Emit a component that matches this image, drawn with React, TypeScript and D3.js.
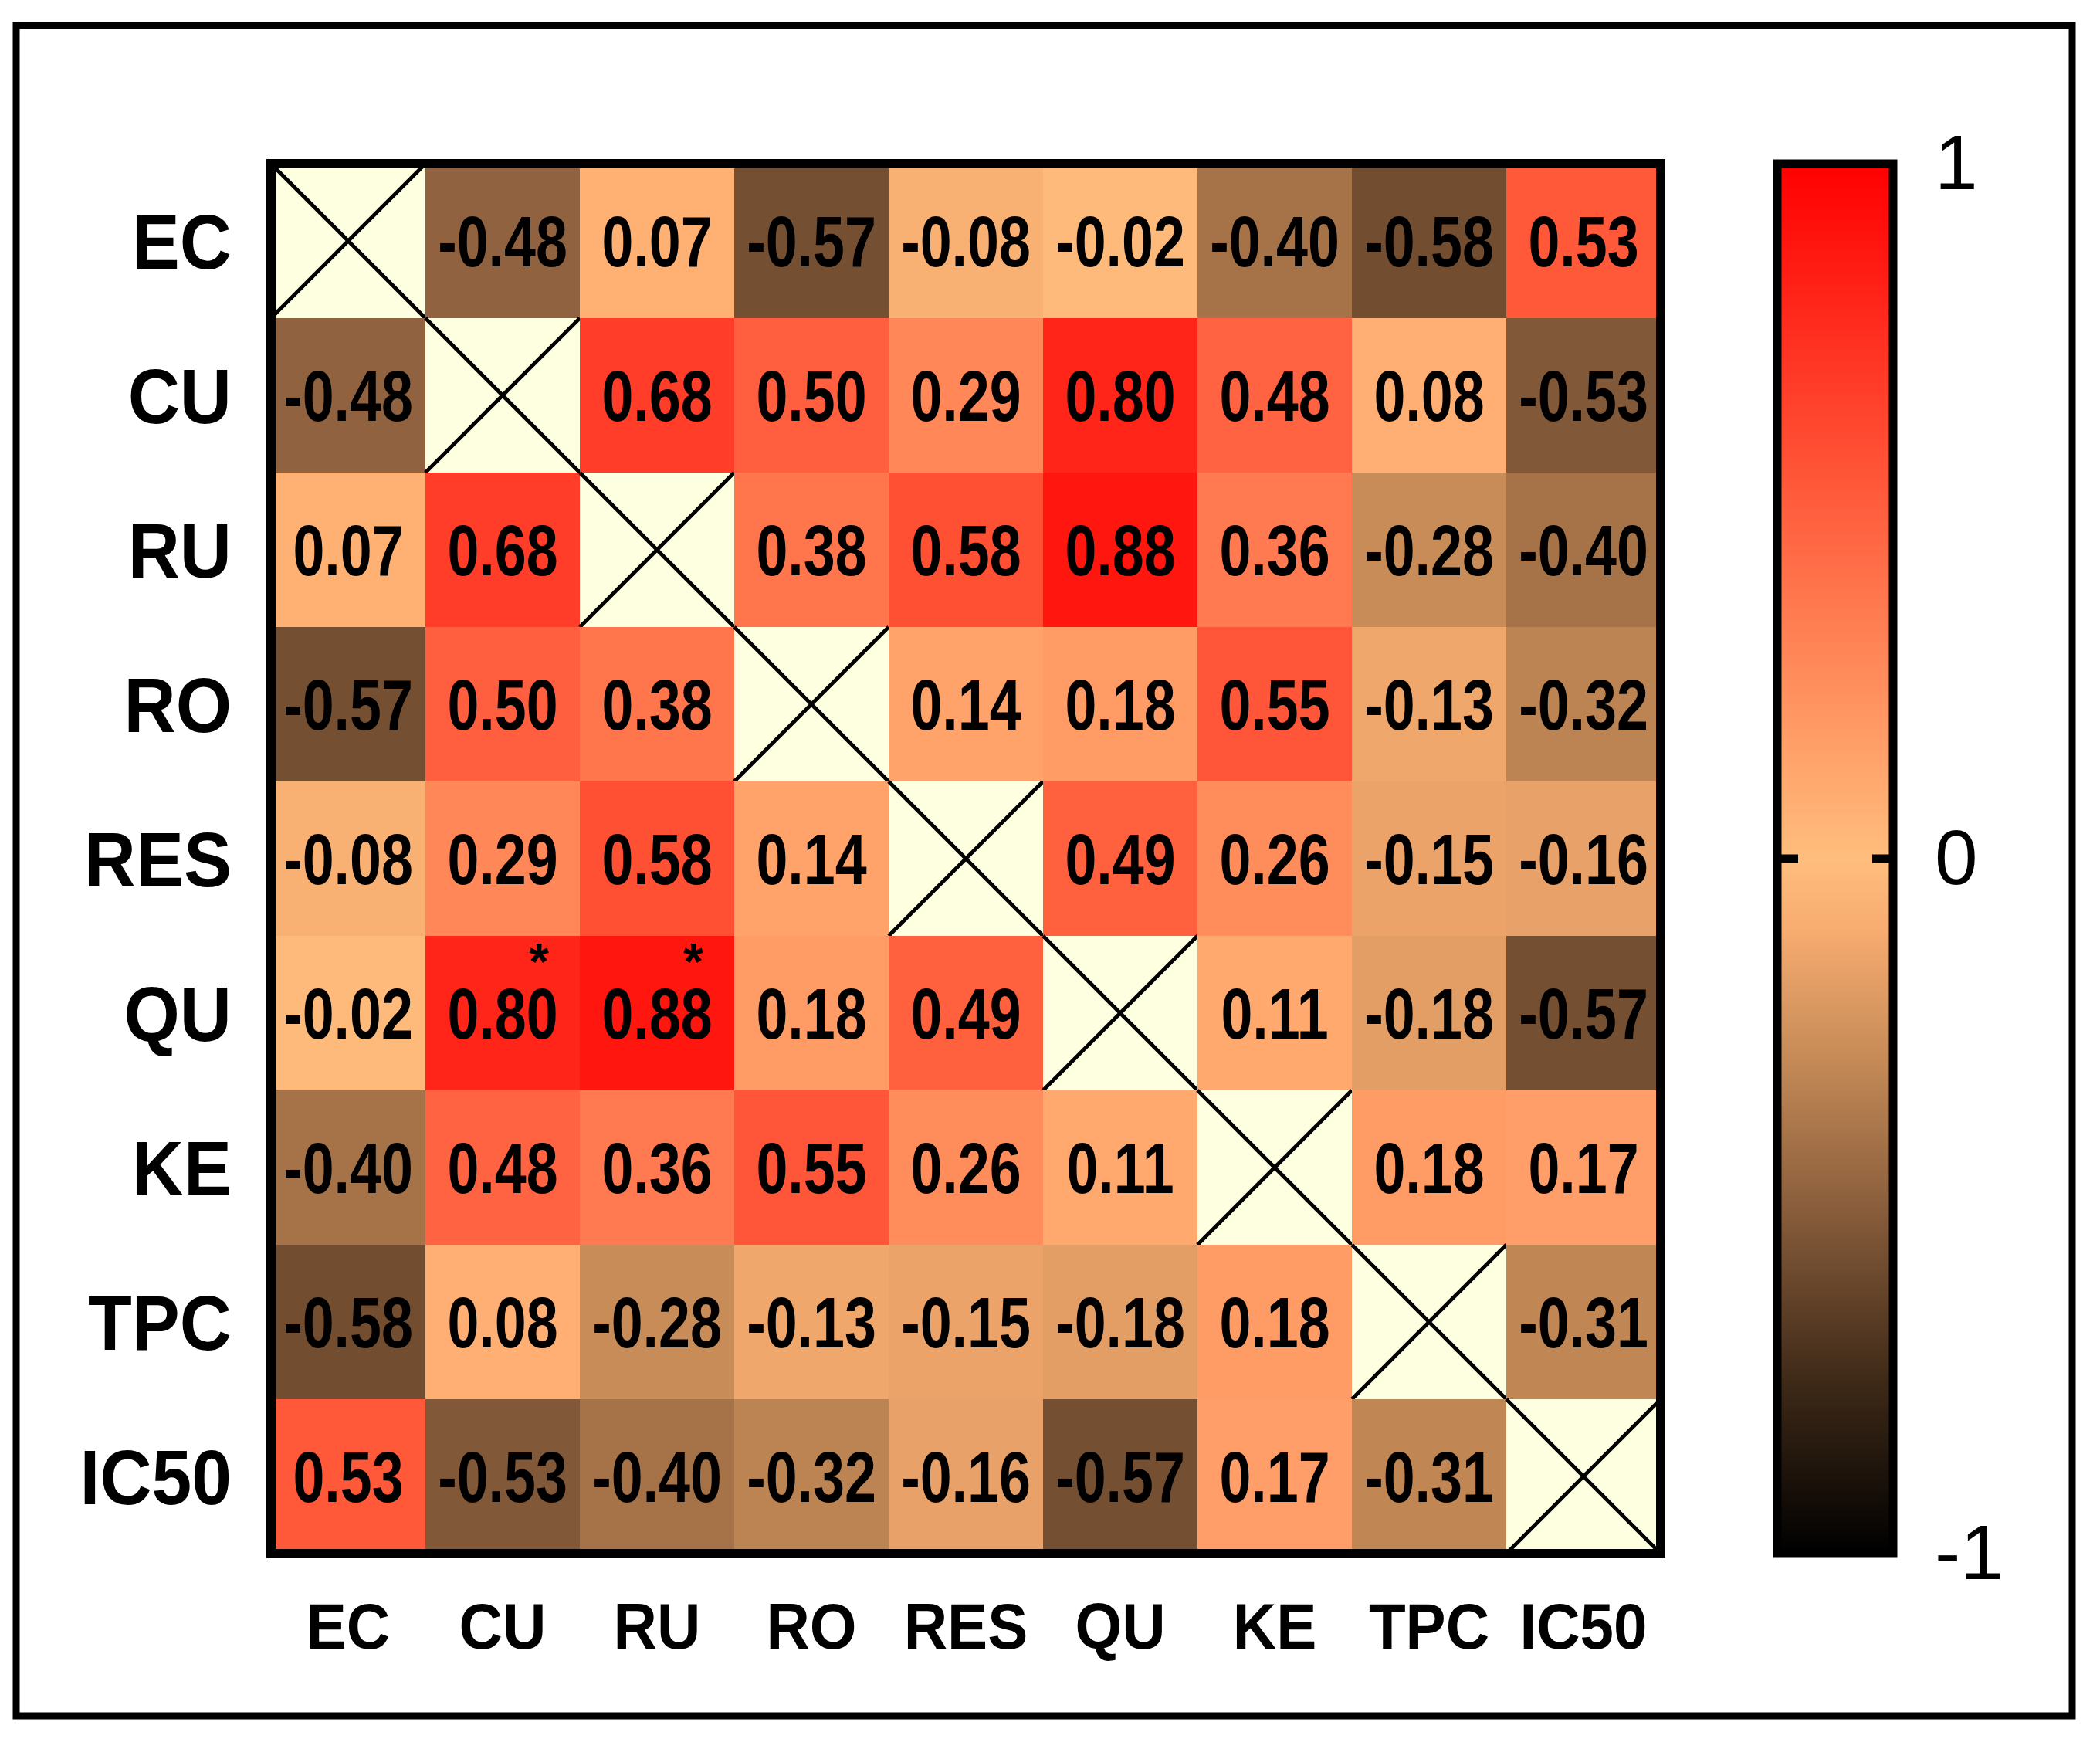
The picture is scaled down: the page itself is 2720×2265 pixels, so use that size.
import * as d3 from 'd3';

// variables, same order on both axes
const labels = ['EC', 'CU', 'RU', 'RO', 'RES', 'QU', 'KE', 'TPC', 'IC50'];

// correlation values, one array per row (null = diagonal)
const rowEC = [null, -0.48, 0.07, -0.57, -0.08, -0.02, -0.4, -0.58, 0.53];
const rowCU = [-0.48, null, 0.68, 0.5, 0.29, 0.8, 0.48, 0.08, -0.53];
const rowRU = [0.07, 0.68, null, 0.38, 0.58, 0.88, 0.36, -0.28, -0.4];
const rowRO = [-0.57, 0.5, 0.38, null, 0.14, 0.18, 0.55, -0.13, -0.32];
const rowRES = [-0.08, 0.29, 0.58, 0.14, null, 0.49, 0.26, -0.15, -0.16];
const rowQU = [-0.02, 0.8, 0.88, 0.18, 0.49, null, 0.11, -0.18, -0.57];
const rowKE = [-0.4, 0.48, 0.36, 0.55, 0.26, 0.11, null, 0.18, 0.17];
const rowTPC = [-0.58, 0.08, -0.28, -0.13, -0.15, -0.18, 0.18, null, -0.31];
const rowIC50 = [0.53, -0.53, -0.4, -0.32, -0.16, -0.57, 0.17, -0.31, null];
const matrix = [rowEC, rowCU, rowRU, rowRO, rowRES, rowQU, rowKE, rowTPC, rowIC50];

// cells marked with a significance star: [row, col]
const starred = [['QU', 'CU'], ['QU', 'RU']];

// colour bar ticks
const barTicks = [-1, 0, 1];

// colour map stops
const colorStops = [-1, -0.75, -0.5, -0.28, -0.1, 0, 0.5, 1];
const colorRange = ['#000000', '#3f2a18', '#8a5e3c', '#c88c58', '#f8ac70', '#ffbe7d', '#ff5f3e', '#ff0000'];

const W = 2720;
const H = 2265;
const FONT = '"Liberation Sans", Arial, Helvetica, sans-serif';

export default function App() {
  const x = d3.scaleBand<string>().domain(labels).range([351, 2151]);
  const y = d3.scaleBand<string>().domain(labels).range([212, 2012]);
  const color = d3.scaleLinear<string>().domain(colorStops).range(colorRange).interpolate(d3.interpolateRgb);
  const barY = d3.scaleLinear().domain([-1, 1]).range([2012, 212]);
  const fmt = (v: number) => v.toFixed(2); // plain hyphen minus, like the original
  const bw = x.bandwidth();
  const bh = y.bandwidth();

  const barX0 = 2302;
  const barX1 = 2452;

  const cells = matrix.flatMap((row, r) =>
    row.map((v, c) => ({ row: labels[r], col: labels[c], v }))
  );

  return (
    <svg
      width={W}
      height={H}
      style={{ position: 'absolute', left: 0, top: 0, background: '#fff' }}
      fontFamily={FONT}
    >
      <defs>
        <linearGradient id="bar" x1="0" y1="1" x2="0" y2="0">
          {colorStops.map((s) => (
            <stop key={s} offset={`${((s + 1) / 2) * 100}%`} stopColor={color(s)} />
          ))}
        </linearGradient>
      </defs>

      {/* outer frame */}
      <rect x={21} y={33} width={2663} height={2189} fill="#fff" stroke="#000" strokeWidth={9} />

      {/* heatmap cells */}
      {cells.map((d) => {
        const cx = x(d.col)! + bw / 2;
        const cy = y(d.row)! + bh / 2;
        if (d.v === null) {
          return (
            <g key={d.row + d.col}>
              <rect x={x(d.col)} y={y(d.row)} width={bw} height={bh} fill="#fefee0" />
              <line x1={x(d.col)} y1={y(d.row)} x2={x(d.col)! + bw} y2={y(d.row)! + bh} stroke="#000" strokeWidth={5} />
              <line x1={x(d.col)} y1={y(d.row)! + bh} x2={x(d.col)! + bw} y2={y(d.row)} stroke="#000" strokeWidth={5} />
            </g>
          );
        }
        return (
          <g key={d.row + d.col}>
            <rect x={x(d.col)} y={y(d.row)} width={bw + 0.5} height={bh + 0.5} fill={color(d.v)} />
            <text
              transform={`translate(${cx},${cy + 33}) scale(0.8,1)`}
              textAnchor="middle"
              fontSize={92}
              fontWeight="bold"
              fill="#000"
            >
              {fmt(d.v)}
            </text>
          </g>
        );
      })}

      {/* significance stars */}
      {starred.map(([r, c]) => (
        <text
          key={r + c}
          x={x(c)! + bw / 2 + 47}
          y={y(r)! + bh / 2 - 44}
          textAnchor="middle"
          fontSize={66}
          fontWeight="bold"
        >
          *
        </text>
      ))}

      {/* heatmap border */}
      <rect x={351} y={212} width={1800} height={1800} fill="none" stroke="#000" strokeWidth={12} />

      {/* row labels */}
      {labels.map((l) => (
        <text
          key={'r' + l}
          transform={`translate(300,${y(l)! + bh / 2 + 36}) scale(0.93,1)`}
          textAnchor="end"
          fontSize={100}
          fontWeight="bold"
        >
          {l}
        </text>
      ))}

      {/* column labels */}
      {labels.map((l) => (
        <text
          key={'c' + l}
          transform={`translate(${x(l)! + bw / 2},2135) scale(0.93,1)`}
          textAnchor="middle"
          fontSize={84}
          fontWeight="bold"
        >
          {l}
        </text>
      ))}

      {/* colour bar */}
      <rect
        x={barX0}
        y={barY(1)}
        width={barX1 - barX0}
        height={barY(-1) - barY(1)}
        fill="url(#bar)"
        stroke="#000"
        strokeWidth={11}
      />
      {barTicks
        .filter((t) => t !== -1 && t !== 1)
        .map((t) => (
          <g key={'t' + t}>
            <line x1={barX0} x2={barX0 + 27} y1={barY(t)} y2={barY(t)} stroke="#000" strokeWidth={11} />
            <line x1={barX1} x2={barX1 - 27} y1={barY(t)} y2={barY(t)} stroke="#000" strokeWidth={11} />
          </g>
        ))}
      {barTicks.map((t) => (
        <text key={'l' + t} x={2506} y={barY(t) + 33} fontSize={100}>
          {t}
        </text>
      ))}
    </svg>
  );
}
